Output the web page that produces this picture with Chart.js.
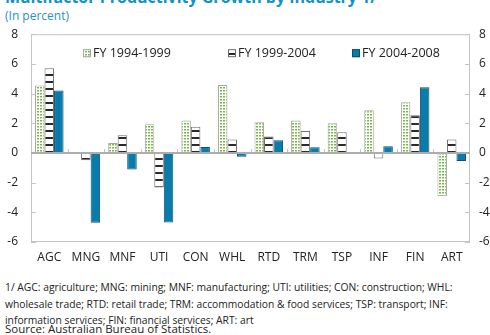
<!DOCTYPE html>
<html>
<head>
<meta charset="utf-8">
<script src="https://cdn.jsdelivr.net/npm/chart.js@4"></script>
<style>
  html, body { margin: 0; padding: 0; background: #fff; }
  body { width: 490px; height: 335px; position: relative; overflow: hidden; font-family: "Open Sans", sans-serif; }
  #title { position: absolute; left: 5px; top: -14px; font-size: 16px; font-weight: bold; color: #1590c8; white-space: nowrap; }
  #subtitle { position: absolute; left: 5px; top: 7px; font-size: 12px; color: #2a90c4; }
  #wrap { position: absolute; left: 0; top: 14px; width: 490px; height: 256px; }
  #notes { position: absolute; left: 5px; top: 279px; width: 486px; font-size: 10.3px; line-height: 16.5px; color: #222; white-space: nowrap; }
  #source { position: absolute; left: 5px; top: 321px; font-size: 11.5px; color: #222; }
</style>
</head>
<body>
<div id="title">Multifactor Productivity Growth by Industry 1/</div>
<div id="subtitle">(In percent)</div>
<div id="wrap"><canvas id="mfpChart"></canvas></div>
<div id="notes">1/ AGC: agriculture; MNG: mining; MNF: manufacturing; UTI: utilities; CON: construction; WHL:<br>wholesale trade; RTD: retail trade; TRM: accommodation &amp; food services; TSP: transport; INF:<br>information services; FIN: financial services; ART: art</div>
<div id="source">Source: Australian Bureau of Statistics.</div>
<script>
const industries = ['AGC', 'MNG', 'MNF', 'UTI', 'CON', 'WHL', 'RTD', 'TRM', 'TSP', 'INF', 'FIN', 'ART'];
const fy9499 = [4.55, 0.05, 0.67, 1.93, 2.18, 4.58, 2.07, 2.18, 2.0, 2.87, 3.41, -2.92];
const fy9904 = [5.7, -0.5, 1.19, -2.33, 1.77, 0.9, 1.1, 1.5, 1.39, -0.38, 2.54, 0.9];
const fy0408 = [4.2, -4.7, -1.12, -4.69, 0.4, -0.25, 0.85, 0.38, -0.05, 0.45, 4.42, -0.54];
const yTicks = [8, 6, 4, 2, 0, -2, -4, -6];

// dotted green fill
function dotPattern() {
    const c = document.createElement('canvas');
    c.width = 3; c.height = 3;
    const g = c.getContext('2d');
    g.fillStyle = '#ffffff';
    g.fillRect(0, 0, 3, 3);
    g.fillStyle = '#7cb44a';
    g.fillRect(1, 1, 2, 1.5);
    return g.createPattern(c, 'repeat');
}

// horizontal black stripes on white
function stripePattern() {
    const c = document.createElement('canvas');
    c.width = 4; c.height = 7;
    const g = c.getContext('2d');
    g.fillStyle = '#ffffff';
    g.fillRect(0, 0, 4, 7);
    g.fillStyle = '#2a2a2a';
    g.fillRect(0, 4, 4, 2);
    return g.createPattern(c, 'repeat');
}

const fontFamily = '"Open Sans", sans-serif';

// frame, inward ticks, zero line and legend drawn around the bars
const decorPlugin = {
    id: 'decor',
    beforeDatasetsDraw(chart) {
        const { ctx, chartArea: a, scales } = chart;
        const y = scales.y;
        ctx.save();
        ctx.strokeStyle = '#c4c4c4';
        ctx.lineWidth = 1;
        ctx.strokeRect(a.left + 0.5, a.top + 0.5, a.right - a.left - 1, a.bottom - a.top - 1);
        ctx.beginPath();
        yTicks.forEach(v => {
            const py = Math.round(y.getPixelForValue(v)) + 0.5;
            ctx.moveTo(a.left, py); ctx.lineTo(a.left + 5, py);
            ctx.moveTo(a.right - 5, py); ctx.lineTo(a.right, py);
        });
        // category separators on the zero line
        const zero = y.getPixelForValue(0);
        const step = (a.right - a.left) / industries.length;
        for (let i = 1; i < industries.length; i++) {
            const px = Math.round(a.left + i * step) + 0.5;
            ctx.moveTo(px, zero - 4); ctx.lineTo(px, zero);
        }
        ctx.stroke();
        ctx.restore();
    },
    afterDatasetsDraw(chart) {
        const { ctx, chartArea: a, scales } = chart;
        const zero = scales.y.getPixelForValue(0);
        ctx.save();
        ctx.strokeStyle = '#adadad';
        ctx.lineWidth = 2;
        ctx.beginPath();
        ctx.moveTo(a.left, zero); ctx.lineTo(a.right, zero);
        ctx.stroke();

        // legend inside the plot
        const offsets = [52, 197, 321];
        const ly = a.top + 19;
        ctx.font = '12.5px ' + fontFamily;
        ctx.textBaseline = 'middle';
        chart.data.datasets.forEach((ds, i) => {
            const bx = a.left + offsets[i];
            ctx.fillStyle = ds.backgroundColor;
            ctx.fillRect(bx, ly - 4, 8, 8);
            ctx.strokeStyle = ds.borderColor;
            ctx.lineWidth = 1;
            ctx.strokeRect(bx + 0.5, ly - 3.5, 7, 7);
            ctx.fillStyle = '#222';
            ctx.fillText(ds.label, bx + 10, ly);
        });
        ctx.restore();
    }
};

new Chart(document.getElementById('mfpChart'), {
    type: 'bar',
    data: {
        labels: industries,
        datasets: [
            {
                label: 'FY 1994-1999',
                data: fy9499,
                backgroundColor: dotPattern(),
                borderColor: '#a3a89c',
                borderWidth: 1
            },
            {
                label: 'FY 1999-2004',
                data: fy9904,
                backgroundColor: stripePattern(),
                borderColor: '#6a6a6a',
                borderWidth: 1
            },
            {
                label: 'FY 2004-2008',
                data: fy0408,
                backgroundColor: '#0a7cab',
                borderColor: '#0c4e6e',
                borderWidth: 1
            }
        ]
    },
    options: {
        responsive: true,
        maintainAspectRatio: false,
        animation: false,
        categoryPercentage: 0.78,
        barPercentage: 1.0,
        layout: { padding: { top: 1, left: 0, right: 0, bottom: 0 } },
        plugins: {
            legend: { display: false },
            tooltip: { enabled: false }
        },
        scales: {
            x: {
                grid: { display: false, drawTicks: false },
                border: { display: false },
                ticks: { color: '#222', font: { size: 12, family: fontFamily }, padding: 8, maxRotation: 0, autoSkip: false },
                afterFit(s) { s.height = 28; }
            },
            y: {
                min: -6,
                max: 8,
                position: 'left',
                grid: { display: false, drawTicks: false },
                border: { display: false },
                ticks: { stepSize: 2, color: '#222', font: { size: 12, family: fontFamily }, padding: 13 },
                afterFit(s) { s.width = 31; }
            },
            y2: {
                min: -6,
                max: 8,
                position: 'right',
                grid: { display: false, drawTicks: false },
                border: { display: false },
                ticks: { stepSize: 2, color: '#222', font: { size: 12, family: fontFamily }, padding: 9 },
                afterFit(s) { s.width = 20; }
            }
        }
    },
    plugins: [decorPlugin]
});
</script>
</body>
</html>
